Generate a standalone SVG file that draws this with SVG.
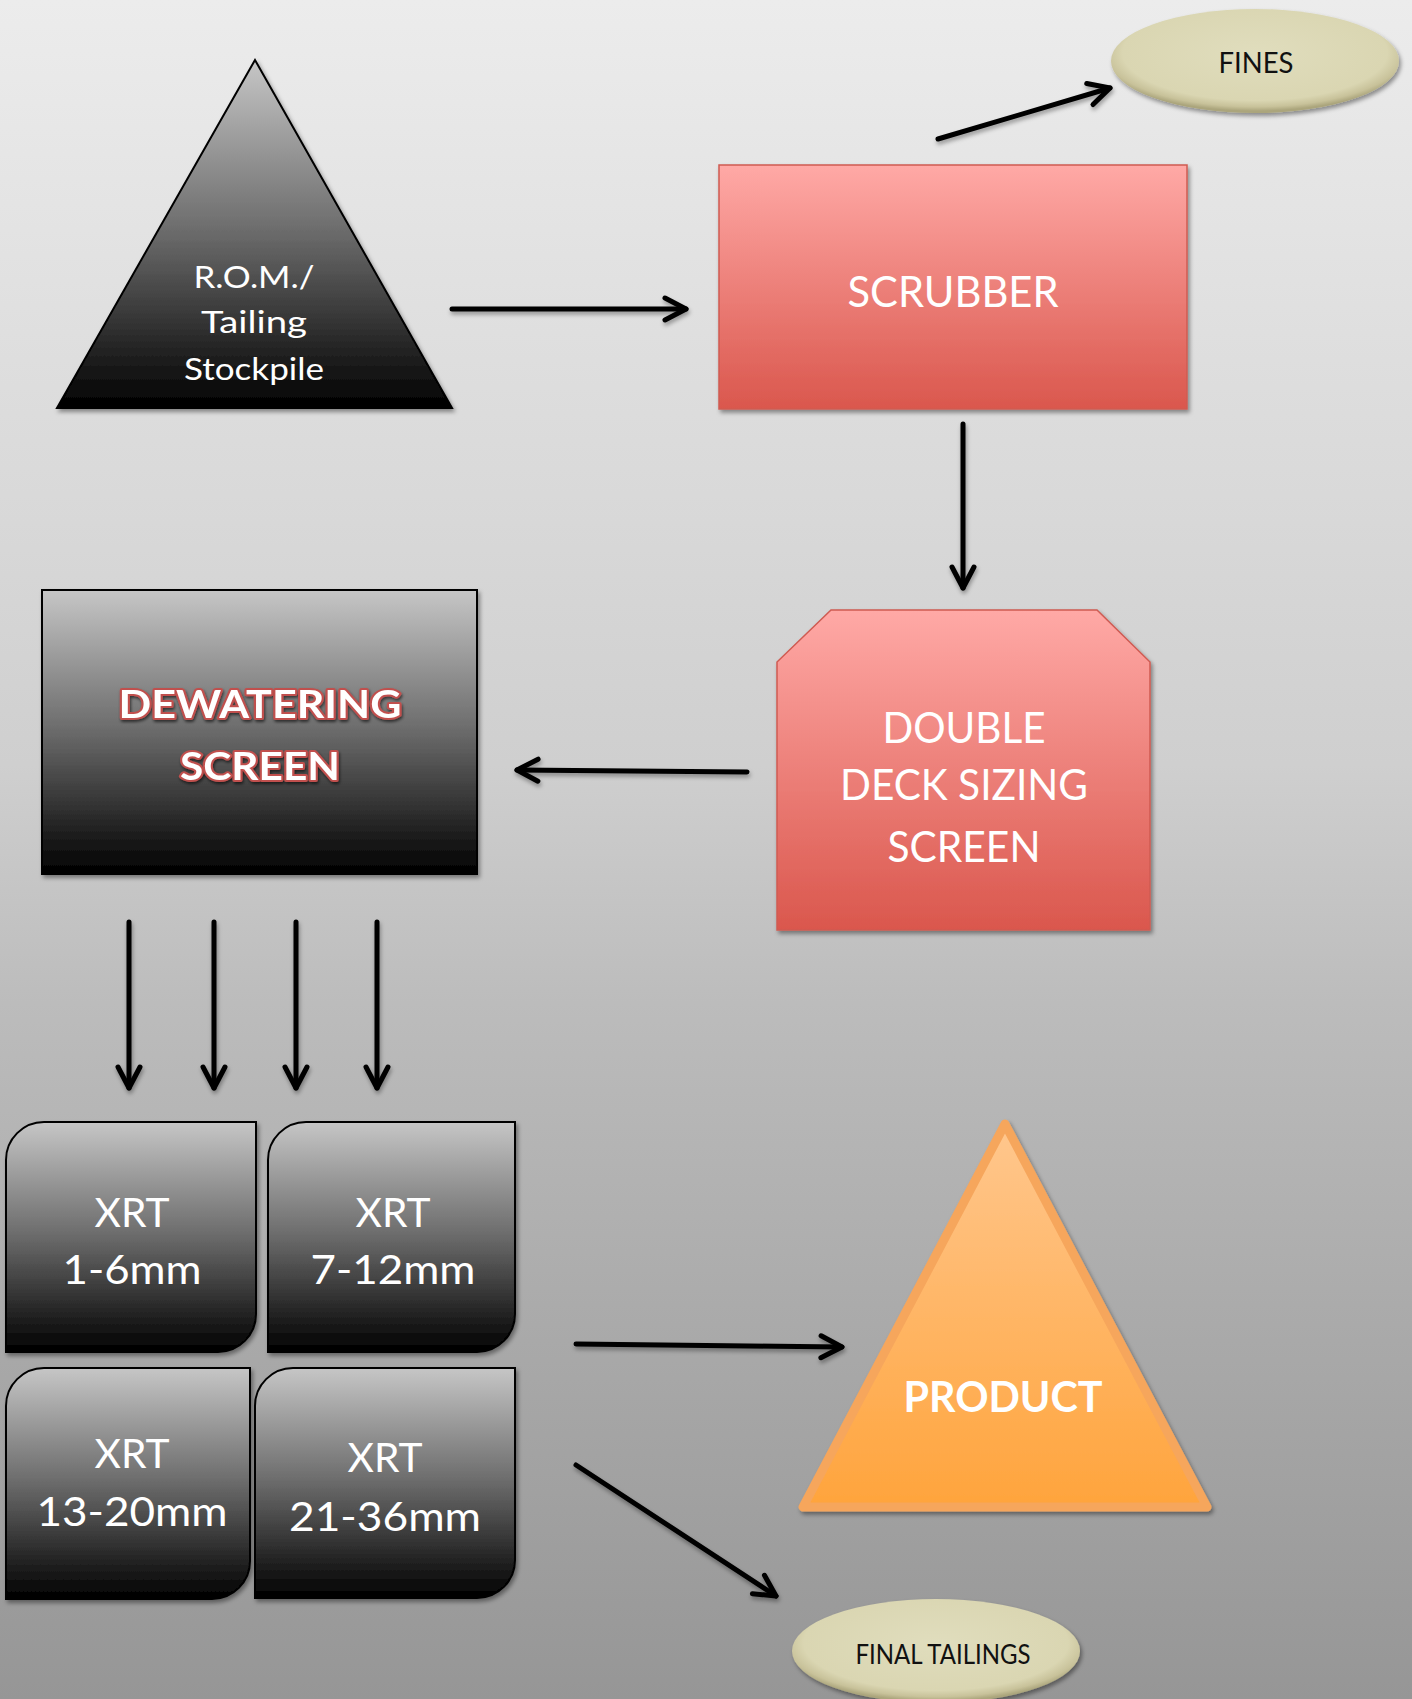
<svg xmlns="http://www.w3.org/2000/svg" width="1412" height="1699" viewBox="0 0 1412 1699">
<defs>
<linearGradient id="bg" x1="0" y1="0" x2="0" y2="1">
<stop offset="0" stop-color="#ECECEC"/>
<stop offset="0.18" stop-color="#E0E0E0"/>
<stop offset="0.45" stop-color="#CFCFCF"/>
<stop offset="0.59" stop-color="#BCBCBC"/>
<stop offset="0.8" stop-color="#A8A8A8"/>
<stop offset="1" stop-color="#969696"/>
</linearGradient>
<linearGradient id="dark" x1="0" y1="0" x2="0" y2="1">
<stop offset="0" stop-color="#C6C6C6"/>
<stop offset="0.5" stop-color="#6A6A6A"/>
<stop offset="1" stop-color="#000000"/>
</linearGradient>
<linearGradient id="red" x1="0" y1="0" x2="0" y2="1">
<stop offset="0" stop-color="#FFA9A6"/>
<stop offset="1" stop-color="#DA574D"/>
</linearGradient>
<linearGradient id="orange" x1="0" y1="0" x2="0" y2="1">
<stop offset="0" stop-color="#FFC78E"/>
<stop offset="1" stop-color="#FFA43C"/>
</linearGradient>
<radialGradient id="beige" cx="0.5" cy="0.42" r="0.56">
<stop offset="0" stop-color="#E0DDBD"/>
<stop offset="0.82" stop-color="#DAD6B2"/>
<stop offset="0.93" stop-color="#C8C29A"/>
<stop offset="1" stop-color="#ABA57C"/>
</radialGradient>
<filter id="sh" x="-10%" y="-10%" width="130%" height="130%">
<feDropShadow dx="2" dy="3" stdDeviation="2" flood-color="#000" flood-opacity="0.4"/>
</filter>
<filter id="ash" x="-10%" y="-50%" width="130%" height="200%">
<feDropShadow dx="1" dy="3" stdDeviation="2" flood-color="#000" flood-opacity="0.35"/>
</filter>
<filter id="tsh" x="-10%" y="-30%" width="130%" height="160%">
<feDropShadow dx="1" dy="2" stdDeviation="1.5" flood-color="#000" flood-opacity="0.6"/>
</filter>
<marker id="ah" markerUnits="userSpaceOnUse" markerWidth="40" markerHeight="40" viewBox="0 0 40 40" refX="30" refY="20" orient="auto" overflow="visible">
<path d="M9,9 L30,20 L9,31" fill="none" stroke="#000" stroke-width="5" stroke-linecap="round" stroke-linejoin="round"/>
</marker>
</defs>
<style>
.t{font-family:Lato,"Open Sans","Liberation Sans",sans-serif;text-anchor:middle;fill:#fff}
.b{font-weight:bold}
.k{fill:#111}
.c{fill:none;stroke:#000;stroke-width:5;stroke-linecap:round;marker-end:url(#ah)}
</style>
<rect x="0" y="0" width="1412" height="1699" fill="url(#bg)"/>

<g id="connectors" filter="url(#ash)">
<line class="c" x1="452" y1="309" x2="686" y2="309"/>
<line class="c" x1="938" y1="139" x2="1110" y2="88"/>
<line class="c" x1="963" y1="424" x2="963" y2="588"/>
<line class="c" x1="747" y1="772" x2="517" y2="770"/>
<line class="c" x1="129" y1="922" x2="129" y2="1088"/>
<line class="c" x1="214" y1="922" x2="214" y2="1088"/>
<line class="c" x1="296" y1="922" x2="296" y2="1088"/>
<line class="c" x1="377" y1="922" x2="377" y2="1088"/>
<line class="c" x1="576" y1="1344" x2="842" y2="1347"/>
<line class="c" x1="576" y1="1465" x2="776" y2="1596"/>
</g>

<g id="rom">
<polygon points="255,60 57,408 452,408" fill="url(#dark)" stroke="#000" stroke-width="2" filter="url(#sh)"/>
<text class="t" font-size="31" x="254" y="288" textLength="121" lengthAdjust="spacingAndGlyphs">R.O.M./</text>
<text class="t" font-size="31" x="254" y="333" textLength="106" lengthAdjust="spacingAndGlyphs">Tailing</text>
<text class="t" font-size="31" x="254" y="380" textLength="140" lengthAdjust="spacingAndGlyphs">Stockpile</text>
</g>

<g id="scrubber">
<rect x="719" y="165" width="468" height="244" fill="url(#red)" stroke="#CF5B52" stroke-width="1.5" filter="url(#sh)"/>
<text class="t" font-size="42" x="953" y="307" textLength="211" lengthAdjust="spacingAndGlyphs">SCRUBBER</text>
</g>

<g id="fines">
<ellipse cx="1255" cy="61" rx="144" ry="52" fill="url(#beige)" filter="url(#sh)"/>
<text class="t k" font-size="28" x="1256" y="73" textLength="75" lengthAdjust="spacingAndGlyphs">FINES</text>
</g>

<g id="double-deck">
<polygon points="831,610 1097,610 1150,662 1150,930 777,930 777,662" fill="url(#red)" stroke="#CF5B52" stroke-width="1.5" filter="url(#sh)"/>
<text class="t" font-size="43" x="964" y="743" textLength="163" lengthAdjust="spacingAndGlyphs">DOUBLE</text>
<text class="t" font-size="43" x="964" y="800" textLength="248" lengthAdjust="spacingAndGlyphs">DECK SIZING</text>
<text class="t" font-size="43" x="964" y="862" textLength="153" lengthAdjust="spacingAndGlyphs">SCREEN</text>
</g>

<g id="dewatering">
<rect x="42" y="590" width="435" height="284" fill="url(#dark)" stroke="#000" stroke-width="2" filter="url(#sh)"/>
<g filter="url(#tsh)">
<text class="t b" font-size="39" x="260" y="718" textLength="283" lengthAdjust="spacingAndGlyphs" stroke="#C0504D" stroke-width="4" paint-order="stroke" stroke-linejoin="round">DEWATERING</text>
<text class="t b" font-size="39" x="260" y="780" textLength="160" lengthAdjust="spacingAndGlyphs" stroke="#C0504D" stroke-width="4" paint-order="stroke" stroke-linejoin="round">SCREEN</text>
</g>
</g>

<g id="xrt-1-6">
<path d="M44,1122 H256 V1314 A38,38 0 0 1 218,1352 H6 V1160 A38,38 0 0 1 44,1122 Z" fill="url(#dark)" stroke="#000" stroke-width="2" filter="url(#sh)"/>
<text class="t" font-size="41" x="132" y="1227" textLength="75" lengthAdjust="spacingAndGlyphs">XRT</text>
<text class="t" font-size="41" x="132" y="1284" textLength="139" lengthAdjust="spacingAndGlyphs">1-6mm</text>
</g>

<g id="xrt-7-12">
<path d="M306,1122 H515 V1314 A38,38 0 0 1 477,1352 H268 V1160 A38,38 0 0 1 306,1122 Z" fill="url(#dark)" stroke="#000" stroke-width="2" filter="url(#sh)"/>
<text class="t" font-size="41" x="393" y="1227" textLength="75" lengthAdjust="spacingAndGlyphs">XRT</text>
<text class="t" font-size="41" x="393" y="1284" textLength="165" lengthAdjust="spacingAndGlyphs">7-12mm</text>
</g>

<g id="xrt-13-20">
<path d="M44,1368 H250 V1561 A38,38 0 0 1 212,1599 H6 V1406 A38,38 0 0 1 44,1368 Z" fill="url(#dark)" stroke="#000" stroke-width="2" filter="url(#sh)"/>
<text class="t" font-size="41" x="132" y="1468" textLength="75" lengthAdjust="spacingAndGlyphs">XRT</text>
<text class="t" font-size="41" x="132" y="1526" textLength="191" lengthAdjust="spacingAndGlyphs">13-20mm</text>
</g>

<g id="xrt-21-36">
<path d="M293,1368 H515 V1560 A38,38 0 0 1 477,1598 H255 V1406 A38,38 0 0 1 293,1368 Z" fill="url(#dark)" stroke="#000" stroke-width="2" filter="url(#sh)"/>
<text class="t" font-size="41" x="385" y="1472" textLength="75" lengthAdjust="spacingAndGlyphs">XRT</text>
<text class="t" font-size="41" x="385" y="1531" textLength="192" lengthAdjust="spacingAndGlyphs">21-36mm</text>
</g>

<g id="product">
<polygon points="1005,1124 803,1507 1207,1507" fill="url(#orange)" stroke="#F6A65C" stroke-width="9" stroke-linejoin="round" filter="url(#sh)"/>
<text class="t b" font-size="42" x="1003" y="1412" textLength="199" lengthAdjust="spacingAndGlyphs">PRODUCT</text>
</g>

<g id="final-tailings">
<ellipse cx="936" cy="1651" rx="144" ry="52" fill="url(#beige)" filter="url(#sh)"/>
<text class="t k" font-size="27" x="943" y="1664" textLength="175" lengthAdjust="spacingAndGlyphs">FINAL TAILINGS</text>
</g>
</svg>
